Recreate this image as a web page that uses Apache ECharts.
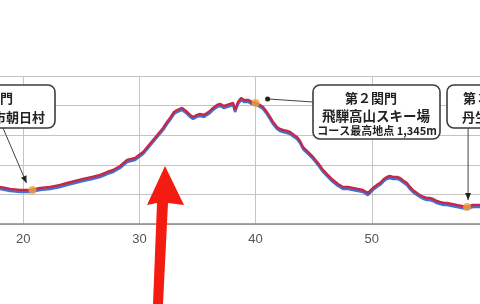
<!DOCTYPE html>
<html>
<head>
<meta charset="utf-8">
<script src="https://cdn.jsdelivr.net/npm/echarts@6/dist/echarts.min.js"></script>
<style>html,body{margin:0;padding:0;background:#fff;}#c{width:480px;height:304px;}</style>
</head>
<body>
<div id="c"></div>
<script>
// Course distance (km) and elevation (m)
const kmData = [17.5,18.02,18.45,18.88,19.74,20.6,21.46,22.32,23.18,23.78,24.47,25.16,25.93,26.62,27.22,27.74,28.34,28.94,29.29,29.63,29.97,30.32,30.75,31.18,31.61,32.04,32.38,32.64,32.98,33.24,33.67,34.01,34.36,34.62,34.96,35.22,35.56,35.82,36.08,36.34,36.68,36.94,37.28,37.54,37.8,38.06,38.23,38.49,38.75,39.0,39.35,39.69,40.03,40.38,40.64,40.9,41.24,41.5,41.84,42.1,42.36,42.7,42.96,43.3,43.56,43.82,44.08,44.51,44.94,45.37,45.8,46.23,46.66,47.09,47.52,47.95,48.38,48.81,49.23,49.66,50.09,50.44,50.7,51.04,51.3,51.56,51.81,52.16,52.42,52.76,53.02,53.28,53.53,53.88,54.14,54.48,54.74,55.0,55.25,55.6,55.86,56.2,56.46,56.89,57.32,57.75,58.18,58.43,58.69,59.04,59.3,60.0];
const elevData = [662,650,643,636,630,630,643,650,664,677,691,704,718,731,751,765,792,832,839,846,866,886,927,968,1008,1049,1089,1116,1157,1170,1184,1164,1137,1123,1137,1143,1137,1150,1164,1184,1204,1211,1197,1204,1211,1218,1170,1224,1251,1238,1238,1224,1218,1204,1191,1164,1123,1089,1055,1042,1035,1028,1022,1001,988,961,920,887,853,812,765,731,697,670,650,650,643,636,630,609,643,664,677,704,718,724,718,718,711,691,677,650,630,609,596,582,576,576,569,555,549,542,542,535,528,522,515,522,528,528,528,525];
// Checkpoints (関門)
const checkpointKm = [20.8, 40.0, 58.2];
const checkpointElev = [630, 1218, 515];
const xTickLabels = [10, 20, 30, 40, 50, 60];
const calloutLines = [
  ['第１関門', '高山市朝日村'],
  ['第２関門', '飛騨高山スキー場', 'コース最高地点 1,345m'],
  ['第３関門', '丹生川町']
];

const chart = echarts.init(document.getElementById('c'), null, {renderer: 'canvas'});
const profile = kmData.map((k, i) => [k, elevData[i]]);
const cps = checkpointKm.map((k, i) => [k, checkpointElev[i]]);

chart.setOption({
  animation: false,
  backgroundColor: '#fff',
  grid: {left: -93, right: -8, top: 76, bottom: 80, containLabel: false, outerBoundsMode: 'none'},
  xAxis: {
    type: 'value', min: xTickLabels[0], max: xTickLabels[xTickLabels.length - 1], interval: 10,
    axisLine: {show: true, lineStyle: {color: '#8a8a8a', width: 1.5}},
    axisTick: {show: false},
    axisLabel: {color: '#555', fontSize: 13, fontFamily: 'Liberation Sans', margin: 9},
    splitLine: {show: true, lineStyle: {color: '#c4c4c4', width: 1}}
  },
  yAxis: {
    type: 'value', min: 400, max: 1400, interval: 200,
    axisLine: {show: false}, axisTick: {show: false}, axisLabel: {show: false},
    splitLine: {show: true, lineStyle: {color: '#c4c4c4', width: 1}}
  },
  series: [
    {
      type: 'line', data: profile, showSymbol: false, z: 3,
      lineStyle: {color: '#c42a48', width: 2.5, shadowColor: '#3f74d6', shadowOffsetY: 2, shadowBlur: 0}
    },
    {
      type: 'scatter', data: cps, symbolSize: 8, z: 4,
      itemStyle: {color: '#f0a23a'}
    }
  ]
});

function px(i) { return chart.convertToPixel({gridIndex: 0}, cps[i]); }
const p1 = px(0), p2 = px(1), p3 = px(2);
const boxStroke = '#3c3c3c';
const cjk = '"Noto Sans CJK JP"';

function box(x, y, w, h) {
  return {type: 'rect', shape: {x: x, y: y, width: w, height: h, r: 7},
    style: {fill: '#fff', stroke: boxStroke, lineWidth: 1.6}, z: 10};
}
function txt(t, x, y, size, align) {
  return {type: 'text', x: x, y: y, z: 11,
    style: {text: t, font: 'bold ' + size + 'px ' + cjk, fill: '#222', textAlign: align || 'center', textVerticalAlign: 'middle'}};
}
function arrowHead(tx, ty, ang) {
  const L = 7, W = 3;
  const c = Math.cos(ang), s = Math.sin(ang);
  return {type: 'polygon', z: 9, shape: {points: [
    [tx, ty],
    [tx - L * c + W * s, ty - L * s - W * c],
    [tx - L * c - W * s, ty - L * s + W * c]
  ]}, style: {fill: '#222'}};
}

const t1 = [p1[0] - 6, p1[1] - 7];
const a1 = Math.atan2(t1[1] - 128, t1[0] - 3);
const t3 = [p3[0] + 1, p3[1] - 7];

chart.setOption({
  graphic: [
    // callout 1
    {type: 'line', z: 9, shape: {x1: 3, y1: 128, x2: t1[0], y2: t1[1]}, style: {stroke: '#444', lineWidth: 1}},
    arrowHead(t1[0], t1[1], a1),
    box(-45, 85, 100, 43),
    txt(calloutLines[0][0], 13, 98, 13, 'right'),
    txt(calloutLines[0][1], 45, 117, 13, 'right'),
    // callout 2
    {type: 'line', z: 9, shape: {x1: 313, y1: 102, x2: p2[0] + 12, y2: p2[1] - 4}, style: {stroke: '#444', lineWidth: 1}},
    {type: 'circle', z: 9, shape: {cx: p2[0] + 12, cy: p2[1] - 4, r: 2.5}, style: {fill: '#222'}},
    box(313, 85, 127, 54),
    txt(calloutLines[1][0], 371, 98, 13),
    txt(calloutLines[1][1], 376, 116, 13.5),
    txt(calloutLines[1][2], 377, 131, 11),
    // callout 3
    {type: 'line', z: 9, shape: {x1: t3[0], y1: 128, x2: t3[0], y2: t3[1]}, style: {stroke: '#444', lineWidth: 1}},
    arrowHead(t3[0], t3[1], Math.PI / 2),
    box(447, 85, 80, 43),
    txt(calloutLines[2][0], 463, 98, 13, 'left'),
    txt(calloutLines[2][1], 462, 117, 13, 'left'),
    // big red arrow overlay
    {type: 'polygon', z: 20, shape: {points: [[165,166],[184,205],[168,203],[163,304],[153,304],[157,203],[147,205]]},
      style: {fill: '#f41c10'}}
  ]
});
</script>
</body>
</html>
